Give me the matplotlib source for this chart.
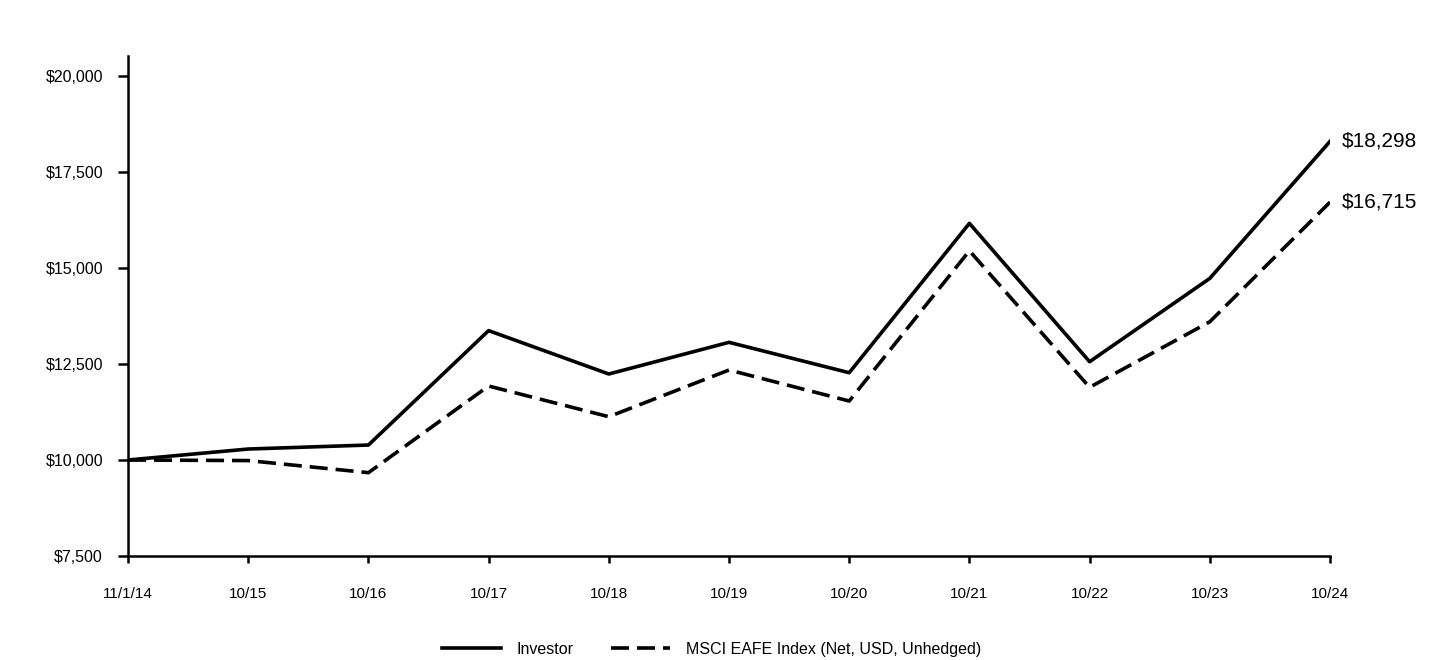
import matplotlib.pyplot as plt
from matplotlib.ticker import FuncFormatter

plt.rcParams['font.family'] = ['Liberation Sans', 'DejaVu Sans']

dates = ['11/1/14', '10/15', '10/16', '10/17', '10/18', '10/19',
         '10/20', '10/21', '10/22', '10/23', '10/24']
investor = [10000, 10286, 10390, 13370, 12240, 13065,
            12273, 16164, 12560, 14730, 18298]
msci = [10000, 9985, 9670, 11927, 11128, 12344,
        11536, 15450, 11893, 13600, 16715]
y_ticks = [7500, 10000, 12500, 15000, 17500, 20000]

fig = plt.figure(figsize=(14.4, 6.6), dpi=100)
ax = fig.add_axes([0.0889, 0.1576, 0.8347, 0.7574])

x = list(range(len(dates)))
ax.plot(x, investor, color='black', lw=2.6, label='Investor')
ax.plot(x, msci, color='black', lw=2.6, dashes=(5, 2.2),
        label='MSCI EAFE Index (Net, USD, Unhedged)')

# closing values next to the last point
ax.text(x[-1] + 0.1, investor[-1], '${:,}'.format(investor[-1]),
        fontsize=15, va='center', ha='left')
ax.text(x[-1] + 0.1, msci[-1], '${:,}'.format(msci[-1]),
        fontsize=15, va='center', ha='left')

ax.set_xlim(0, len(dates) - 1)
ax.set_ylim(7500, 20520)
ax.set_xticks(x)
ax.set_xticklabels(dates)
ax.set_yticks(y_ticks)
ax.yaxis.set_major_formatter(FuncFormatter(lambda v, p: '${:,.0f}'.format(v)))

for s in ['top', 'right']:
    ax.spines[s].set_visible(False)
for s in ['left', 'bottom']:
    ax.spines[s].set_linewidth(1.8)
ax.tick_params(axis='x', labelsize=11, width=1.8, length=5, pad=17.5)
ax.tick_params(axis='y', labelsize=11.5, width=1.8, length=7.5, pad=10.5)

fig.legend(loc='lower center', bbox_to_anchor=(0.494, -0.017), ncol=2, frameon=False,
           fontsize=11.5, handlelength=3.7, handletextpad=1.0, columnspacing=2.3)

fig.savefig('out.png', dpi=100)
